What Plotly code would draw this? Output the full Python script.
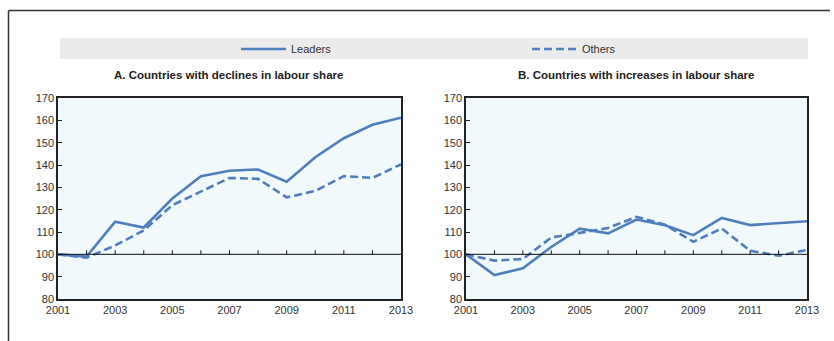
import plotly.graph_objects as go

# Index, 2001 = 100
years = list(range(2001, 2014))

leaders_decl = [100, 99, 114.6, 112, 125, 135, 137.4, 138, 132.5, 143.5, 152, 158, 161.2]
others_decl = [100, 98.5, 104, 110.7, 122, 128, 134.2, 133.8, 125.5, 128.4, 135, 134.2, 140.3]

leaders_incr = [100, 90.7, 93.8, 103.3, 111.5, 109.4, 115.6, 113, 108.6, 116.3, 113.1, 113.8, 114.8]
others_incr = [100, 97.2, 97.9, 107.5, 109.6, 111.8, 116.8, 113.3, 105.6, 111.6, 101.6, 99.4, 102]

panel_titles = ["A. Countries with declines in labour share",
                "B. Countries with increases in labour share"]
series_names = ["Leaders", "Others"]
xtick_vals = [2001, 2003, 2005, 2007, 2009, 2011, 2013]
ytick_vals = list(range(80, 171, 10))

W, H = 834, 341
BLUE = "#4f7fbd"
FONT = "Liberation Sans, Arial, sans-serif"

def px(x):
    return x / W

def py(y):
    return (H - y) / H

fig = go.Figure()

panels = [
    ("x", "y", leaders_decl, others_decl, True),
    ("x2", "y2", leaders_incr, others_incr, False),
]
for xa, ya, lead, oth, show in panels:
    fig.add_trace(go.Scatter(x=years, y=lead, mode="lines", name=series_names[0],
                             line=dict(color=BLUE, width=2.6), xaxis=xa, yaxis=ya,
                             showlegend=show, legend="legend"))
    fig.add_trace(go.Scatter(x=years, y=oth, mode="lines", name=series_names[1],
                             line=dict(color=BLUE, width=2.6, dash="8px,4px"),
                             xaxis=xa, yaxis=ya, showlegend=show, legend="legend2"))

ydom = [py(299), py(98)]
axis_common = dict(showgrid=False, zeroline=False, showline=True, mirror=True,
                   linecolor="#222", linewidth=1.5, automargin=False,
                   tickfont=dict(family=FONT, size=11, color="#333"))

legend_common = dict(orientation="h", y=py(49), xanchor="left", yanchor="middle",
                     bgcolor="rgba(0,0,0,0)", itemwidth=45,
                     font=dict(family=FONT, size=11, color="#333"))

fig.update_layout(
    width=W, height=H,
    margin=dict(l=0, r=0, t=0, b=0, autoexpand=False),
    paper_bgcolor="white",
    plot_bgcolor="#f1f9fd",
    font=dict(family=FONT, size=11, color="#333"),
    xaxis=dict(domain=[px(58), px(401)], range=[2001, 2013], tickvals=xtick_vals,
               ticks="", anchor="y", **axis_common),
    yaxis=dict(domain=ydom, range=[80, 170], tickvals=ytick_vals, ticks="inside",
               ticklen=4, tickcolor="#222", anchor="x", **axis_common),
    xaxis2=dict(domain=[px(466), px(807)], range=[2001, 2013], tickvals=xtick_vals,
                ticks="", anchor="y2", **axis_common),
    yaxis2=dict(domain=ydom, range=[80, 170], tickvals=ytick_vals, ticks="inside",
                ticklen=4, tickcolor="#222", anchor="x2", **axis_common),
    legend=dict(x=px(236), **legend_common),
    legend2=dict(x=px(527), **legend_common),
    showlegend=True,
)

shapes = [
    # outer frame: top and left edges
    dict(type="line", xref="paper", yref="paper", x0=px(8.5), x1=px(830),
         y0=py(10.5), y1=py(10.5), line=dict(color="#333", width=1.5)),
    dict(type="line", xref="paper", yref="paper", x0=px(8.5), x1=px(8.5),
         y0=0, y1=py(10.5), line=dict(color="#333", width=1.5)),
    # legend band
    dict(type="rect", xref="paper", yref="paper", x0=px(60), x1=px(808),
         y0=py(59), y1=py(38), fillcolor="#ebebeb", line=dict(width=0), layer="below"),
]
for xa, ya in [("x", "y"), ("x2", "y2")]:
    # reference line at 100
    shapes.append(dict(type="line", xref=f"{xa} domain", yref=ya, x0=0, x1=1,
                       y0=100, y1=100, line=dict(color="#111", width=1)))
    # year ticks on the reference line
    for yr in years[1:-1]:
        shapes.append(dict(type="line", xref=xa, yref=ya, x0=yr, x1=yr,
                           ysizemode="pixel", yanchor=100, y0=0, y1=4,
                           line=dict(color="#111", width=1)))
fig.update_layout(shapes=shapes)

annotations = []
for title, cx in zip(panel_titles, [px(228), px(636)]):
    annotations.append(dict(text=f"<b>{title}</b>", xref="paper", yref="paper",
                            x=cx, y=py(75), xanchor="center", yanchor="middle",
                            showarrow=False, font=dict(family=FONT, size=11.5, color="#222")))
fig.update_layout(annotations=annotations)

fig.write_html("out.html")
